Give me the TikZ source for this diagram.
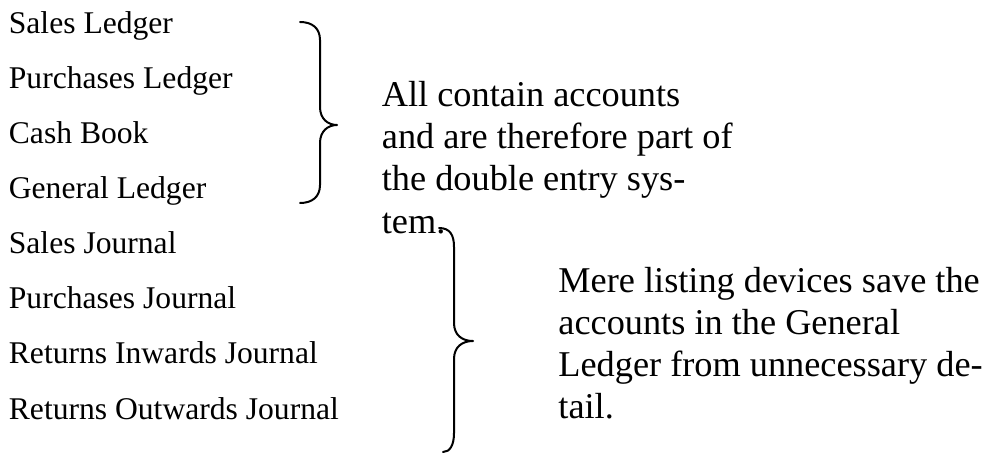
\documentclass[tikz,border=0pt]{standalone}
\usepackage{fontspec}
\setmainfont{Liberation Serif}
\begin{document}
\begin{tikzpicture}[x=0.5pt,y=-0.5pt,
  item/.style={anchor=base west,inner sep=0pt,font=\fontsize{15.8pt}{18pt}\selectfont},
  note/.style={anchor=base west,inner sep=0pt,font=\fontsize{18.15pt}{20pt}\selectfont},
  brace/.style={line width=1pt,line cap=round,line join=round}]
\useasboundingbox[fill=white] (0,0) rectangle (988,454);

% list of books
\node[item] (sl)  at (8.5,33.3)  {Sales Ledger};
\node[item] (pl)  at (8.5,88.4)  {Purchases Ledger};
\node[item] (cb)  at (8.5,143.5) {Cash Book};
\node[item] (gl)  at (8.5,198.6) {General Ledger};
\node[item] (sj)  at (8.5,253.7) {Sales Journal};
\node[item] (pj)  at (8.5,308.8) {Purchases Journal};
\node[item] (rij) at (8.5,363.9) {Returns Inwards Journal};
\node[item] (roj) at (8.5,419)   {Returns Outwards Journal};

% upper brace: the books of account
\coordinate (b1top) at (300,22);
\coordinate (b1tip) at (337,125);
\coordinate (b1bot) at (300,203);
\draw[brace] (b1top) .. controls (312,22) and (320,28) .. (320,40)
  -- (320,107) .. controls (320,119) and (328,125) .. (b1tip)
  .. controls (328,125) and (320,131) .. (320,143)
  -- (320,185) .. controls (320,197) and (312,203) .. (b1bot);

% lower brace: the journals
\coordinate (b2top) at (439,228);
\coordinate (b2tip) at (473,341);
\coordinate (b2bot) at (443,452);
\draw[brace] (b2top) .. controls (450,228) and (454,235) .. (454,247)
  -- (454,323) .. controls (454,335) and (462,341) .. (b2tip)
  .. controls (462,341) and (454,347) .. (454,359)
  -- (454,433) .. controls (454,445) and (450,452) .. (b2bot);

% note on the books of account
\node[note] (n1a) at (381.5,107) {All contain accounts};
\node[note] (n1b) at (381.5,149) {and are therefore part of};
\node[note] (n1c) at (381.5,191) {the double entry sys-};
\node[note] (n1d) at (381.5,233) {tem.};

% note on the journals
\node[note] (n2a) at (558,292) {Mere listing devices save the};
\node[note] (n2b) at (558,334) {accounts in the General};
\node[note] (n2c) at (558,376) {Ledger from unnecessary de-};
\node[note] (n2d) at (558,418) {tail.};
\end{tikzpicture}
\end{document}
